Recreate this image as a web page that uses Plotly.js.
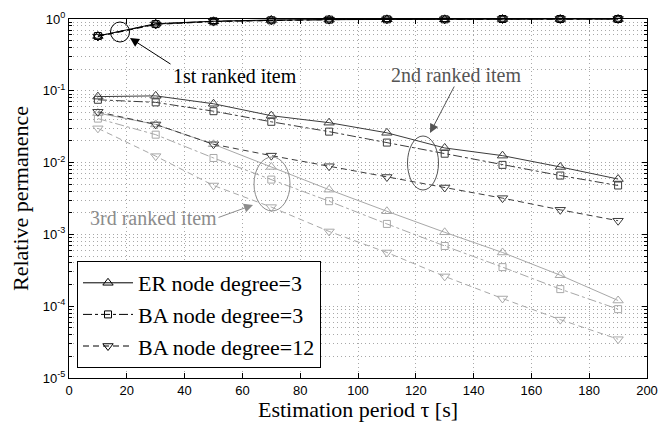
<!DOCTYPE html>
<html>
<head>
<meta charset="utf-8">
<script src="https://cdn.plot.ly/plotly-3.0.1.min.js"></script>
<style>html,body{margin:0;padding:0;background:#fff;}#chart{width:660px;height:422px;}</style>
</head>
<body>
<div id="chart"></div>
<script>
// Estimation period tau [s]
const tau = [10, 30, 50, 70, 90, 110, 130, 150, 170, 190];

// 1st ranked item
const rank1_er   = [0.58, 0.86, 0.93, 0.97, 0.98, 0.99, 0.99, 1.0, 1.0, 1.0];
const rank1_ba3  = [0.58, 0.85, 0.93, 0.96, 0.98, 0.99, 0.99, 1.0, 1.0, 1.0];
const rank1_ba12 = [0.57, 0.84, 0.92, 0.96, 0.98, 0.99, 0.99, 1.0, 1.0, 1.0];

// 2nd ranked item
const rank2_er   = [0.083, 0.085, 0.066, 0.045, 0.036, 0.026, 0.016, 0.0125, 0.0087, 0.0059];
const rank2_ba3  = [0.075, 0.069, 0.052, 0.037, 0.027, 0.019, 0.0133, 0.0093, 0.0066, 0.0048];
const rank2_ba12 = [0.051, 0.034, 0.018, 0.0125, 0.0089, 0.0063, 0.0045, 0.0032, 0.0022, 0.00155];

// 3rd ranked item
const rank3_er   = [0.049, 0.034, 0.018, 0.0087, 0.0042, 0.0021, 0.00107, 0.00056, 0.00027, 0.00012];
const rank3_ba3  = [0.041, 0.0245, 0.0116, 0.0058, 0.0029, 0.0014, 0.00069, 0.00035, 0.000173, 0.000091];
const rank3_ba12 = [0.030, 0.0123, 0.0048, 0.0024, 0.0011, 0.00056, 0.00026, 0.000128, 0.000065, 0.0000347];

const seriesNames = ['ER node degree=3', 'BA node degree=3', 'BA node degree=12'];
const yTickVals = [1e-5, 1e-4, 1e-3, 1e-2, 1e-1, 1];
const yTickText = ['10<sup>-5</sup>', '10<sup>-4</sup>', '10<sup>-3</sup>', '10<sup>-2</sup>', '10<sup>-1</sup>', '10<sup>0</sup>'];

const C1 = '#000000', C2 = '#3c3c3c', C3 = '#a8a8a8';
const styles = [
  {symbol: 'triangle-up-open', size: 9, dash: 'solid'},
  {symbol: 'square-open', size: 7, dash: 'dashdot'},
  {symbol: 'triangle-down-open', size: 9, dash: '6px,4px'}
];

function tr(y, k, color, legend) {
  const s = styles[k];
  return {
    x: tau, y: y, type: 'scatter', mode: 'lines+markers',
    name: seriesNames[k],
    showlegend: legend,
    legendgroup: legend ? 'g' + k : undefined,
    cliponaxis: false,
    line: {color: color, width: 1, dash: s.dash},
    marker: {symbol: s.symbol, size: s.size, color: color, line: {color: color, width: 1}}
  };
}

const data = [
  tr(rank3_er, 0, C3, false), tr(rank3_ba3, 1, C3, false), tr(rank3_ba12, 2, C3, false),
  tr(rank2_er, 0, C2, false), tr(rank2_ba3, 1, C2, false), tr(rank2_ba12, 2, C2, false),
  tr(rank1_er, 0, C1, true), tr(rank1_ba3, 1, C1, true), tr(rank1_ba12, 2, C1, true)
];

// plot area in pixels: left 69, right 647, top 19, bottom 378
const L = 69, R = 647, T = 19, B = 378;
const px = v => (v - L) / (R - L);
const py = v => (B - v) / (B - T);

const serif = 'Liberation Serif';
const sans = 'Liberation Sans';
const gridCol = '#a8a8a8';

function ellipse(cx, cy, rx, ry, color) {
  return {type: 'circle', xref: 'paper', yref: 'paper',
    x0: px(cx - rx), x1: px(cx + rx), y0: py(cy + ry), y1: py(cy - ry),
    line: {color: color, width: 1}};
}
function arrow(x1, y1, x0, y0, color) {
  return {xref: 'paper', yref: 'paper', x: px(x1), y: py(y1), text: '',
    showarrow: true, axref: 'pixel', ayref: 'pixel', ax: x0 - x1, ay: y0 - y1,
    arrowhead: 2, arrowsize: 1.8, arrowwidth: 1, arrowcolor: color, standoff: 0, startstandoff: 0};
}
function label(text, cx, cy, color) {
  return {xref: 'paper', yref: 'paper', x: px(cx), y: py(cy), text: text, showarrow: false,
    xanchor: 'center', yanchor: 'middle',
    font: {family: serif, size: 20, color: color}};
}

const layout = {
  width: 660, height: 422,
  margin: {l: L, r: 660 - R, t: T, b: 422 - B, pad: 0},
  paper_bgcolor: '#fff', plot_bgcolor: '#fff',
  font: {family: serif},
  showlegend: true,
  xaxis: {
    range: [0, 200], tick0: 0, dtick: 20, ticks: 'inside', ticklen: 5, tickcolor: '#000',
    showline: true, mirror: 'ticks', linecolor: '#000', linewidth: 1,
    showgrid: true, gridcolor: gridCol, griddash: '1px,3px', gridwidth: 1, zeroline: false,
    tickfont: {family: sans, size: 13, color: '#000'},
    title: {text: 'Estimation period τ [s]', font: {family: serif, size: 22, color: '#000'}, standoff: 3},
    automargin: false
  },
  yaxis: {
    type: 'log', range: [-5, 0], tickmode: 'array', tickvals: yTickVals, ticktext: yTickText,
    ticks: 'inside', ticklen: 5, tickcolor: '#000',
    showline: true, mirror: 'ticks', linecolor: '#000', linewidth: 1,
    showgrid: true, gridcolor: gridCol, griddash: '1px,3px', gridwidth: 1, zeroline: false,
    minor: {dtick: 'D1', ticks: 'inside', ticklen: 3, tickcolor: '#000', showgrid: true, gridcolor: gridCol, griddash: '1px,3px', gridwidth: 1},
    tickfont: {family: sans, size: 13, color: '#000'},
    title: {text: 'Relative permanence', font: {family: serif, size: 22, color: '#000'}, standoff: 8},
    automargin: false
  },
  legend: {
    x: px(77), y: py(261), xanchor: 'left', yanchor: 'top',
    bgcolor: '#fff', bordercolor: '#000', borderwidth: 1,
    font: {family: serif, size: 22, color: '#000'},
    traceorder: 'grouped', tracegroupgap: 0, itemwidth: 50
  },
  shapes: [
    ellipse(120, 32, 9.5, 10, C1),
    ellipse(423, 163, 15.5, 27, '#555'),
    ellipse(272, 184, 18, 27, '#8c8c8c')
  ],
  annotations: [
    arrow(130, 38, 172, 65, C1),
    arrow(430, 133, 455, 85, '#555'),
    arrow(253, 205, 217, 218, '#8c8c8c'),
    label('1st ranked item', 235, 76, '#000'),
    label('2nd ranked item', 456, 75, '#555'),
    label('3rd ranked item', 153, 218, '#8c8c8c')
  ]
};

Plotly.newPlot('chart', data, layout, {displayModeBar: false, staticPlot: true});
</script>
</body>
</html>
